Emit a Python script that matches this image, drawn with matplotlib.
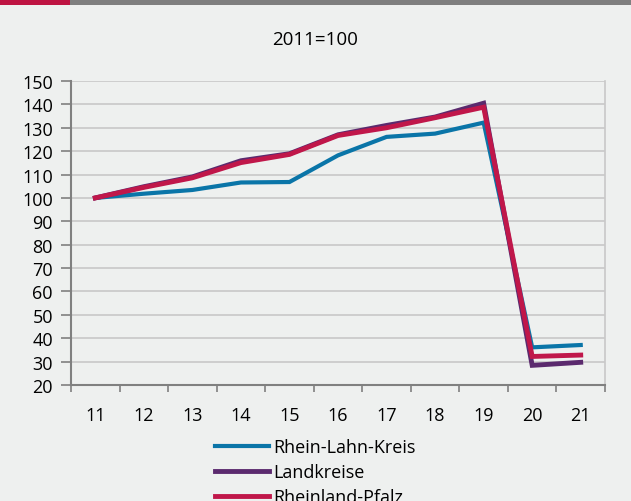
import matplotlib.pyplot as plt
from matplotlib.patches import Rectangle

years = ['11', '12', '13', '14', '15', '16', '17', '18', '19', '20', '21']
rhein_lahn = [100, 101.8, 103.4, 106.6, 106.8, 118.2, 126.1, 127.5, 132.2, 36.1, 37.1]
landkreise = [100, 104.8, 109.0, 115.9, 118.9, 127.0, 131.0, 134.6, 140.5, 28.4, 29.7]
rlp = [100, 104.5, 108.6, 115.1, 118.6, 126.7, 130.0, 134.3, 138.8, 32.2, 32.8]

plt.rcParams['font.family'] = ['Open Sans', 'DejaVu Sans']
bg = '#eef0ef'

fig = plt.figure(figsize=(6.31, 5.02), dpi=100, facecolor=bg)
ax = fig.add_axes([71 / 631, 1 - 386 / 502, 534 / 631, 304 / 502], facecolor=bg)

# coloured band across the top
fig.patches.append(Rectangle((0, 1 - 6 / 502), 70 / 631, 6 / 502, transform=fig.transFigure,
                             facecolor='#be1442', edgecolor='none'))
fig.patches.append(Rectangle((70 / 631, 1 - 6 / 502), 1, 6 / 502, transform=fig.transFigure,
                             facecolor='#7f7f7f', edgecolor='none'))

x = range(len(years))
ax.plot(x, rhein_lahn, color='#0a75a8', lw=3, label='Rhein-Lahn-Kreis', solid_joinstyle='miter')
ax.plot(x, landkreise, color='#5b2a6e', lw=3.5, label='Landkreise', solid_joinstyle='miter')
ax.plot(x, rlp, color='#c0174a', lw=3.5, label='Rheinland-Pfalz', solid_joinstyle='miter')

ax.set_xlim(-0.5, len(years) - 0.5)
ax.set_ylim(20, 150)
ax.set_yticks(range(20, 151, 10))
ax.set_xticks(x)
ax.set_xticklabels(years)
ax.set_xticks([i - 0.5 for i in range(len(years) + 1)], minor=True)
ax.tick_params(axis='x', which='major', length=0, pad=15, labelsize=13)
ax.tick_params(axis='x', which='minor', length=5, color='#808080', width=1.2)
ax.tick_params(axis='y', length=7, color='#808080', width=1.2, labelsize=13, pad=6)
ax.grid(axis='y', color='#c8c8c8', lw=1.2)
ax.set_axisbelow(True)
for s in ['left', 'bottom']:
    ax.spines[s].set_color('#808080')
    ax.spines[s].set_linewidth(1.5)
ax.spines['top'].set_visible(False)
ax.spines['right'].set_color('#c8c8c8')
ax.spines['right'].set_linewidth(1.2)

fig.text(0.5, 1 - 40 / 502, '2011=100', ha='center', va='center', fontsize=13.5)

fig.legend(loc='upper center', bbox_to_anchor=(0.5, 1 - 432 / 502), frameon=False,
           fontsize=13, handlelength=3.0, handletextpad=0.25, labelspacing=0.38,
           borderaxespad=0)

fig.savefig('out.png', dpi=100, facecolor=bg)
